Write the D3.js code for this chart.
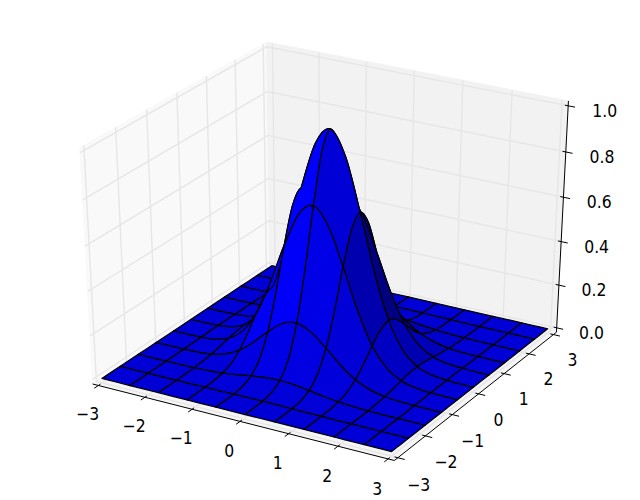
<!DOCTYPE html>
<html><head><meta charset="utf-8">
<script src="https://cdn.jsdelivr.net/npm/d3@7"></script>
<style>html,body{margin:0;padding:0;background:#fff}svg{display:block}text{font-family:"DejaVu Sans";font-size:17.4px;fill:#000}</style>
</head><body><div id="c"></div>
<script>
// Sample positions of the surface (every second sample is a mesh line)
const xValues=[-3,-2.697,-2.394,-2.091,-1.788,-1.485,-1.182,-0.879,-0.576,-0.273,0.03,0.333,0.636,0.939,1.242,1.545,1.848,2.152,2.455,2.727,3];
const yValues=[-3,-2.697,-2.394,-2.091,-1.788,-1.485,-1.182,-0.879,-0.576,-0.273,0.03,0.333,0.636,0.939,1.242,1.545,1.848,2.152,2.455,2.727,3];
// Surface heights: one row per y, one column per x
const zRows=[
[0,0,0,0,0,0,0,0,0,0,0,0,0,0,0,0,0,0,0,0,0],
[0,0,0,0,0,0,0,0,.001,.001,.001,.001,0,0,0,0,0,0,0,0,0],
[0,0,0,0,0,0,.001,.001,.002,.003,.003,.003,.002,.001,.001,0,0,0,0,0,0],
[0,0,0,0,.001,.001,.003,.006,.009,.012,.013,.011,.008,.005,.003,.001,0,0,0,0,0],
[0,0,0,.001,.002,.005,.010,.019,.029,.038,.041,.037,.027,.017,.009,.004,.001,0,0,0,0],
[0,0,0,.001,.005,.012,.027,.051,.079,.102,.110,.099,.074,.046,.024,.010,.004,.001,0,0,0],
[0,0,.001,.003,.010,.027,.061,.114,.177,.230,.247,.221,.165,.102,.053,.023,.008,.002,.001,0,0],
[0,0,.001,.006,.019,.051,.114,.213,.331,.429,.461,.413,.308,.191,.099,.042,.015,.004,.001,0,0],
[0,.001,.002,.009,.029,.079,.177,.331,.515,.666,.717,.642,.479,.297,.153,.066,.024,.007,.002,0,0],
[0,.001,.003,.012,.038,.102,.230,.429,.666,.862,.927,.831,.619,.384,.198,.085,.031,.009,.002,.001,0],
[0,.001,.003,.013,.041,.110,.247,.461,.717,.927,.998,.894,.667,.414,.214,.092,.033,.010,.002,.001,0],
[0,.001,.003,.011,.037,.099,.221,.413,.642,.831,.894,.801,.597,.371,.191,.082,.029,.009,.002,.001,0],
[0,0,.002,.008,.027,.074,.165,.308,.479,.619,.667,.597,.445,.276,.143,.061,.022,.006,.002,0,0],
[0,0,.001,.005,.017,.046,.102,.191,.297,.384,.414,.371,.276,.171,.089,.038,.014,.004,.001,0,0],
[0,0,.001,.003,.009,.024,.053,.099,.153,.198,.214,.191,.143,.089,.046,.020,.007,.002,.001,0,0],
[0,0,0,.001,.004,.010,.023,.042,.066,.085,.092,.082,.061,.038,.020,.008,.003,.001,0,0,0],
[0,0,0,0,.001,.004,.008,.015,.024,.031,.033,.029,.022,.014,.007,.003,.001,0,0,0,0],
[0,0,0,0,0,.001,.002,.004,.007,.009,.010,.009,.006,.004,.002,.001,0,0,0,0,0],
[0,0,0,0,0,0,.001,.001,.002,.002,.002,.002,.002,.001,.001,0,0,0,0,0,0],
[0,0,0,0,0,0,0,0,0,.001,.001,.001,0,0,0,0,0,0,0,0,0],
[0,0,0,0,0,0,0,0,0,0,0,0,0,0,0,0,0,0,0,0,0]
];
const xTicks=[-3,-2,-1,0,1,2,3];
const yTicks=[-3,-2,-1,0,1,2,3];
const zTicks=[0,0.2,0.4,0.6,0.8,1];
const zTickLabels=["0.0","0.2","0.4","0.6","0.8","1.0"];

const W=640,H=500;
const svg=d3.select("#c").append("svg").attr("width",W).attr("height",H);
const sx=d3.scaleLinear().domain([-3,3]).range([0,1]);
const sy=d3.scaleLinear().domain([-3,3]).range([0,1]);
const sz=d3.scaleLinear().domain([0,1]).range([0,1]);
const px=d3.scaleLinear().domain([-0.095,0.09]).range([10.6,629.2]);
const py=d3.scaleLinear().domain([-0.095,0.09]).range([489.9,10.7]);

// Camera: elevation 30, azimuth -60, distance 10
const rad=Math.PI/180,el=30*rad,az=-60*rad,dist=10;
const R=[.5,.5,.5];
const E=[R[0]+dist*Math.cos(az)*Math.cos(el),R[1]+dist*Math.sin(az)*Math.cos(el),R[2]+dist*Math.sin(el)];
const sub=(a,b)=>a.map((v,i)=>v-b[i]);
const dot=(a,b)=>a[0]*b[0]+a[1]*b[1]+a[2]*b[2];
const cross=(a,b)=>[a[1]*b[2]-a[2]*b[1],a[2]*b[0]-a[0]*b[2],a[0]*b[1]-a[1]*b[0]];
const unit=a=>{const n=Math.sqrt(dot(a,a));return a.map(v=>v/n)};
const nv=unit(sub(E,R)),uv=unit(cross([0,0,1],nv)),vv=cross(nv,uv);
function project(x,y,z){
  const d=sub([sx(x),sy(y),sz(z)],E);
  const zv=dot(nv,d);
  return {x:px(dot(uv,d)/-zv),y:py(dot(vv,d)/-zv),depth:-zv};
}
const line=d3.line().x(d=>d.x).y(d=>d.y);

// Box
const dX=6/12,dY=6/12,dZ=1/12;
const x0=-3-dX/4,x1=3+dX/4,y0=-3-dY/4,y1=3+dY/4,z0=0-dZ/4,z1=1+dZ/4;

const panes=[
 {pts:[[x0,y0,z0],[x0,y1,z0],[x0,y1,z1],[x0,y0,z1]],c:"#f9f9f9"},
 {pts:[[x0,y1,z0],[x1,y1,z0],[x1,y1,z1],[x0,y1,z1]],c:"#f2f2f2"},
 {pts:[[x0,y0,z0],[x1,y0,z0],[x1,y1,z0],[x0,y1,z0]],c:"#f5f5f5"}
];
svg.append("g").selectAll("path").data(panes).join("path")
 .attr("d",d=>line(d.pts.map(p=>project(...p)))+"Z")
 .attr("fill",d=>d.c).attr("stroke",d=>d.c).attr("stroke-width",1);

// Grid
const gridLines=[];
xTicks.forEach(t=>gridLines.push([[t,y0,z0],[t,y1,z0],[t,y1,z1]]));
yTicks.forEach(t=>gridLines.push([[x1,t,z0],[x0,t,z0],[x0,t,z1]]));
zTicks.forEach(t=>gridLines.push([[x0,y0,t],[x0,y1,t],[x1,y1,t]]));
svg.append("g").selectAll("path").data(gridLines).join("path")
 .attr("d",d=>line(d.map(p=>project(...p))))
 .attr("fill","none").attr("stroke","#e6e6e6").attr("stroke-width",1.4);

// Axis lines, ticks, labels
const axisG=svg.append("g").attr("fill","none").attr("stroke","#000").attr("stroke-width",1);
const seg=(a,b)=>axisG.append("path").attr("d",line([project(...a),project(...b)]));
seg([x0,y0,z0],[x1,y0,z0]);
seg([x1,y0,z0],[x1,y1,z0]);
seg([x1,y1,z0],[x1,y1,z1]);
const TIN=0.13,TOUT=0.27;
function label(p,t,dx,dy){
  svg.append("text").attr("transform",`translate(${p.x+dx},${p.y+dy}) scale(0.9,1)`).attr("text-anchor","middle").attr("dominant-baseline","central").text(t);
}
const fmt=t=>t<0?"\u2212"+(-t):""+t;
xTicks.forEach(t=>{
  seg([t,y0+TIN*dY,z0],[t,y0-TOUT*dY,z0]);
  label(project(t,y0-1.0*dY,z0-1.0*dZ),fmt(t),3.5,0.5);
});
yTicks.forEach(t=>{
  seg([x1-TIN*dX,t,z0],[x1+TOUT*dX,t,z0]);
  label(project(x1+0.9*dX,t,z0-1.1*dZ),fmt(t),-1.5,1);
});
zTicks.forEach((t,i)=>{
  seg([x1-TIN*dX,y1,t],[x1+TOUT*dX,y1,t]);
  label(project(x1+1.2*dX,y1+0.5*dY,t),zTickLabels[i],0,3.5);
});

// Surface: each cell spans two samples, and has one flat colour
const cells=[];
const P=(i,j)=>project(xValues[j],yValues[i],zRows[i][j]);
const D=(i,j)=>[xValues[j],yValues[i],zRows[i][j]];
const last=xValues.length-1;
const cl=(v)=>Math.max(0,Math.min(last,v));
function side(path,pts){ // pts: sample indices along the side, with one neighbour each way
  for(let k=1;k<pts.length-2;k++){
    const a=P(...pts[k-1]),b=P(...pts[k]),c=P(...pts[k+1]),d=P(...pts[k+2]);
    path.bezierCurveTo(b.x+(c.x-a.x)/6,b.y+(c.y-a.y)/6,c.x-(d.x-b.x)/6,c.y-(d.y-b.y)/6,c.x,c.y);
  }
}
for(let i=0;i<last;i+=2)for(let j=0;j<last;j+=2){
  // normal from three points spread round the cell's outline
  const p0=D(i,j),p1=D(i+1,j+2),p2=D(i+2,j+1);
  const nData=unit(cross(sub(p1,p0),sub(p2,p0)));
  const shade=dot(nData,[-1,-1,.5]);
  const depth=d3.mean([[i,j],[i,j+2],[i+2,j+2],[i+2,j],[i,j+1],[i+1,j+2],[i+2,j+1],[i+1,j]],q=>P(...q).depth);
  const p=d3.path();const s=P(i,j);p.moveTo(s.x,s.y);
  side(p,[[i,cl(j-1)],[i,j],[i,j+1],[i,j+2],[i,cl(j+3)]]);
  side(p,[[cl(i-1),j+2],[i,j+2],[i+1,j+2],[i+2,j+2],[cl(i+3),j+2]]);
  side(p,[[i+2,cl(j+3)],[i+2,j+2],[i+2,j+1],[i+2,j],[i+2,cl(j-1)]]);
  side(p,[[cl(i+3),j],[i+2,j],[i+1,j],[i,j],[cl(i-1),j]]);
  p.closePath();
  cells.push({d:p.toString(),shade,depth});
}
const ext=d3.extent(cells,c=>c.shade);
const norm=d3.scaleLinear().domain([ext[0],0.5,ext[1]]).range([0,0.68,1]);
cells.sort((a,b)=>b.depth-a.depth);
svg.append("g").selectAll("path").data(cells).join("path")
 .attr("d",d=>d.d)
 .attr("fill",d=>`rgb(0,0,${Math.round(255*(0.5+0.5*norm(d.shade)))})`)
 .attr("stroke","#000").attr("stroke-width",1.25).attr("stroke-linejoin","round");
</script></body></html>
